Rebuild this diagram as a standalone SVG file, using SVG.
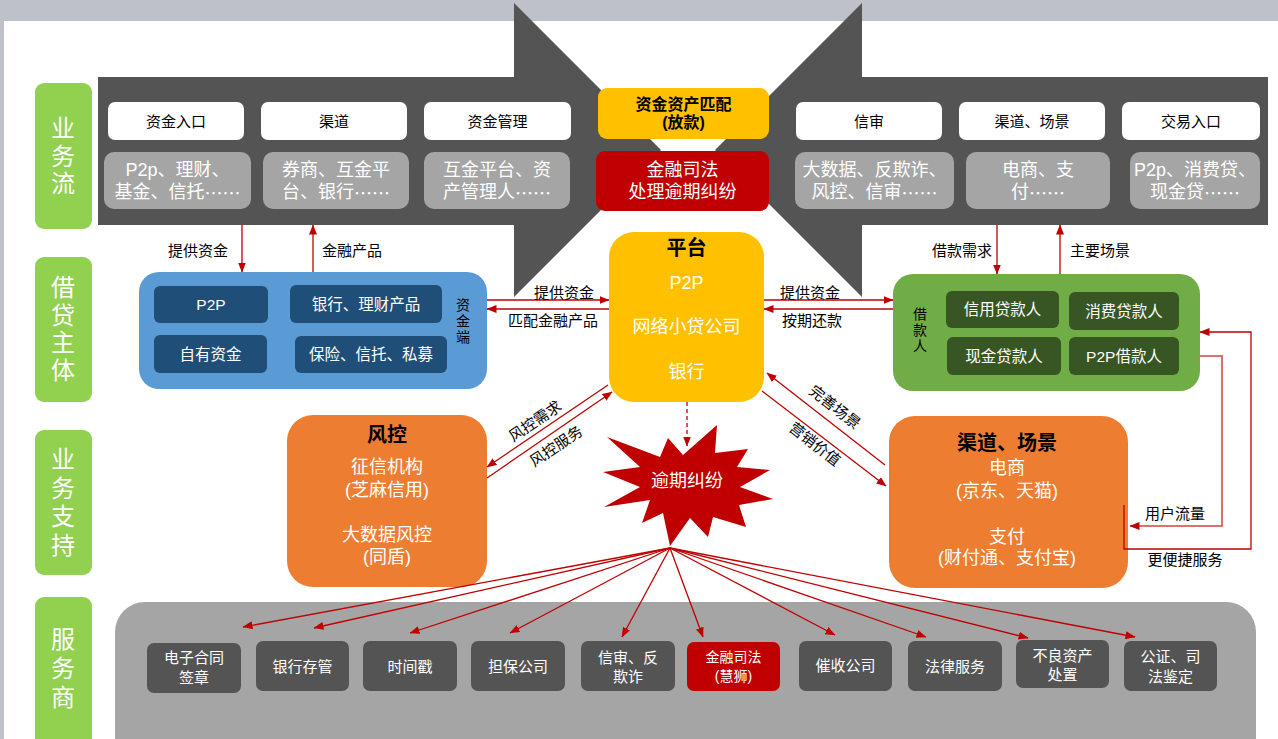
<svg xmlns="http://www.w3.org/2000/svg" width="1278" height="739" viewBox="0 0 1278 739">
<style>
text{font-family:"Liberation Sans","Noto Sans CJK SC",sans-serif;text-anchor:middle;dominant-baseline:central}
.cjk{font-family:"Noto Sans CJK SC",sans-serif}
.side{fill:#92d050}
.sidet{fill:#fff;font-size:24px}
.wbox{fill:#fff}
.wt{fill:#000;font-size:15px}
.gbox{fill:#a5a5a5}
.gt{fill:#fff;font-size:18px}
.dbox{fill:#545454}
.st{fill:#fff;font-size:15px}
.lbl{fill:#000;font-size:15px}
.vl{fill:#000;font-size:14px}
.bt{fill:#fff;font-size:15.5px}
.big{fill:#fff;font-size:18px}
.head{fill:#000;font-size:20px;font-weight:bold}
.c{stroke:#c00000;stroke-width:1.3;fill:none}
.cl{stroke:#e07070;stroke-width:2;fill:none}
</style>
<defs>
<marker id="ah" markerUnits="userSpaceOnUse" markerWidth="10" markerHeight="8" refX="9.5" refY="4" orient="auto">
<path d="M0,0 L10,4 L0,8 z" fill="#c00000"/>
</marker>
</defs>
<rect x="0" y="0" width="1278" height="739" fill="#fff"/>
<rect x="0" y="0" width="1278" height="21" fill="#bfc1ca"/>
<rect x="0" y="0" width="4" height="739" fill="#bfc1ca"/>

<g id="flow-arrows">
<polygon points="98,77 514,77 514,3 661,150 514,297 514,225 98,225" fill="#545454"/>
<polygon points="1268,77 862,77 862,3 715,150 862,297 862,225 1268,225" fill="#545454"/>
</g>

<g id="side-labels">
<g id="side-yewuliu"><rect class="side" x="35" y="83" width="57" height="146" rx="9"/>
<text class="sidet"><tspan x="63" y="128">业</tspan><tspan x="63" y="156">务</tspan><tspan x="63" y="183">流</tspan></text></g>
<g id="side-jiedai"><rect class="side" x="35" y="257" width="57" height="145" rx="9"/>
<text class="sidet"><tspan x="63" y="287">借</tspan><tspan x="63" y="315">贷</tspan><tspan x="63" y="342">主</tspan><tspan x="63" y="370">体</tspan></text></g>
<g id="side-zhichi"><rect class="side" x="35" y="430" width="57" height="145" rx="9"/>
<text class="sidet"><tspan x="63" y="459">业</tspan><tspan x="63" y="488">务</tspan><tspan x="63" y="516">支</tspan><tspan x="63" y="545">持</tspan></text></g>
<g id="side-fuwushang"><rect class="side" x="35" y="597" width="57" height="160" rx="9"/>
<text class="sidet"><tspan x="63" y="639">服</tspan><tspan x="63" y="668">务</tspan><tspan x="63" y="697">商</tspan></text></g>
</g>

<g id="top-row">
<g id="t-zijinrukou"><rect class="wbox" x="108" y="102" width="136" height="38" rx="7"/><text class="wt" x="176" y="121">资金入口</text>
<rect class="gbox" x="104" y="152" width="147" height="57" rx="10"/><text class="gt"><tspan x="177.5" y="170">P2p、理财、</tspan><tspan x="177.5" y="192">基金、信托<tspan class="cjk">……</tspan></tspan></text></g>
<g id="t-qudao"><rect class="wbox" x="261" y="102" width="146" height="38" rx="7"/><text class="wt" x="334" y="121">渠道</text>
<rect class="gbox" x="263" y="152" width="146" height="57" rx="10"/><text class="gt"><tspan x="336" y="170">券商、互金平</tspan><tspan x="336" y="192">台、银行<tspan class="cjk">……</tspan></tspan></text></g>
<g id="t-zijinguanli"><rect class="wbox" x="424" y="102" width="147" height="38" rx="7"/><text class="wt" x="497.5" y="121">资金管理</text>
<rect class="gbox" x="424" y="152" width="146" height="57" rx="10"/><text class="gt"><tspan x="497" y="170">互金平台、资</tspan><tspan x="497" y="192">产管理人<tspan class="cjk">……</tspan></tspan></text></g>
<g id="t-xinshen"><rect class="wbox" x="796" y="102" width="146" height="38" rx="7"/><text class="wt" x="869" y="121">信审</text>
<rect class="gbox" x="795" y="152" width="159" height="57" rx="10"/><text class="gt"><tspan x="874.5" y="170">大数据、反欺诈、</tspan><tspan x="874.5" y="192">风控、信审<tspan class="cjk">……</tspan></tspan></text></g>
<g id="t-qudaochangjing"><rect class="wbox" x="959" y="102" width="146" height="38" rx="7"/><text class="wt" x="1032" y="121">渠道、场景</text>
<rect class="gbox" x="966" y="152" width="144" height="57" rx="10"/><text class="gt"><tspan x="1038" y="170">电商、支</tspan><tspan x="1038" y="192">付<tspan class="cjk">……</tspan></tspan></text></g>
<g id="t-jiaoyirukou"><rect class="wbox" x="1122" y="102" width="138" height="38" rx="7"/><text class="wt" x="1191" y="121">交易入口</text>
<rect class="gbox" x="1130" y="152" width="130" height="57" rx="10"/><text class="gt"><tspan x="1195" y="170">P2p、消费贷、</tspan><tspan x="1195" y="192">现金贷<tspan class="cjk">……</tspan></tspan></text></g>
<g id="t-pipei"><rect x="598" y="88" width="171" height="51" rx="9" fill="#ffc000"/>
<text style="fill:#000;font-size:16px;font-weight:bold"><tspan x="683.5" y="104">资金资产匹配</tspan><tspan x="683.5" y="122">(放款)</tspan></text></g>
<g id="t-sifa"><rect x="596" y="151" width="173" height="60" rx="9" fill="#c00000"/>
<text class="gt"><tspan x="682.5" y="170">金融司法</tspan><tspan x="682.5" y="192">处理逾期纠纷</tspan></text></g>
</g>

<g id="zijinduan">
<rect x="139" y="272" width="348" height="117" rx="20" fill="#5b9bd5"/>
<rect x="154" y="286" width="114" height="37" rx="6" fill="#1f4e79"/><text class="bt" x="211" y="304.5">P2P</text>
<rect x="290" y="285" width="152" height="38" rx="6" fill="#1f4e79"/><text class="bt" x="366" y="304">银行、理财产品</text>
<rect x="154" y="335" width="113" height="38" rx="6" fill="#1f4e79"/><text class="bt" x="210.5" y="354">自有资金</text>
<rect x="295" y="336" width="152" height="37" rx="6" fill="#1f4e79"/><text class="bt" x="371" y="354.5">保险、信托、私募</text>
<text class="vl"><tspan x="463" y="305">资</tspan><tspan x="463" y="321">金</tspan><tspan x="463" y="337">端</tspan></text>
</g>

<g id="pingtai">
<rect x="609" y="232" width="155" height="170" rx="25" fill="#ffc000"/>
<text class="head" x="686.5" y="248">平台</text>
<text class="big"><tspan x="686.5" y="283">P2P</tspan><tspan x="686.5" y="327">网络小贷公司</tspan><tspan x="686.5" y="372">银行</tspan></text>
</g>

<g id="jiekuanren">
<rect x="893" y="274" width="307" height="117" rx="20" fill="#70ad47"/>
<rect x="946" y="291" width="113" height="37" rx="6" fill="#375623"/><text class="bt" x="1002.5" y="309.5">信用贷款人</text>
<rect x="1069" y="292" width="110" height="38" rx="6" fill="#375623"/><text class="bt" x="1124" y="311">消费贷款人</text>
<rect x="947" y="337" width="114" height="38" rx="6" fill="#375623"/><text class="bt" x="1004" y="356">现金贷款人</text>
<rect x="1069" y="337" width="110" height="38" rx="6" fill="#375623"/><text class="bt" x="1124" y="356">P2P借款人</text>
<text class="vl"><tspan x="920" y="314">借</tspan><tspan x="920" y="330">款</tspan><tspan x="920" y="346">人</tspan></text>
</g>

<g id="fengkong">
<rect x="287" y="415" width="200" height="172" rx="26" fill="#ed7d31"/>
<text class="head" x="387" y="435">风控</text>
<text class="big"><tspan x="387" y="467">征信机构</tspan><tspan x="387" y="490">(芝麻信用)</tspan><tspan x="387" y="535">大数据风控</tspan><tspan x="387" y="557">(同盾)</tspan></text>
</g>

<g id="qudao-changjing">
<rect x="889" y="416" width="239" height="172" rx="26" fill="#ed7d31"/>
<text class="head" x="1007" y="443">渠道、场景</text>
<text class="big"><tspan x="1007" y="468">电商</tspan><tspan x="1007" y="491">(京东、天猫)</tspan><tspan x="1007" y="537">支付</tspan><tspan x="1007" y="558">(财付通、支付宝)</tspan></text>
</g>

<g id="yuqi">
<polygon points="717,425 715,453 748,449 737,467 770,470 740,487 773,499 739,505 746,527 713,517 708,537 690,518 670,546 663,513 642,523 650,500 604,507 640,487 603,472 640,467 607,437 660,457 668,438 683,455" fill="#c00000"/>
<text class="big" x="687" y="481">逾期纠纷</text>
</g>

<g id="services">
<rect x="115" y="602" width="1141" height="170" rx="30" fill="#a5a5a5"/>
<g id="s1"><rect class="dbox" x="147" y="643" width="94" height="50" rx="7"/><text class="st"><tspan x="194" y="657">电子合同</tspan><tspan x="194" y="677">签章</tspan></text></g>
<g id="s2"><rect class="dbox" x="256" y="641" width="93" height="50" rx="7"/><text class="st" x="302.5" y="666">银行存管</text></g>
<g id="s3"><rect class="dbox" x="363" y="641" width="94" height="50" rx="7"/><text class="st" x="410" y="666">时间戳</text></g>
<g id="s4"><rect class="dbox" x="471" y="641" width="94" height="50" rx="7"/><text class="st" x="518" y="666">担保公司</text></g>
<g id="s5"><rect class="dbox" x="581" y="641" width="94" height="50" rx="7"/><text class="st"><tspan x="628" y="657">信审、反</tspan><tspan x="628" y="676">欺诈</tspan></text></g>
<g id="s6"><rect x="687" y="642" width="93" height="49" rx="7" fill="#c00000"/><text class="st" style="font-size:14px"><tspan x="733.5" y="657">金融司法</tspan><tspan x="733.5" y="676">(慧狮)</tspan></text></g>
<g id="s7"><rect class="dbox" x="799" y="641" width="93" height="50" rx="7"/><text class="st" x="845.5" y="665">催收公司</text></g>
<g id="s8"><rect class="dbox" x="908" y="641" width="94" height="50" rx="7"/><text class="st" x="955" y="666">法律服务</text></g>
<g id="s9"><rect class="dbox" x="1016" y="640" width="93" height="48" rx="7"/><text class="st"><tspan x="1062.5" y="655">不良资产</tspan><tspan x="1062.5" y="674">处置</tspan></text></g>
<g id="s10"><rect class="dbox" x="1124" y="641" width="93" height="50" rx="7"/><text class="st"><tspan x="1170.5" y="656">公证、司</tspan><tspan x="1170.5" y="676">法鉴定</tspan></text></g>
</g>

<g id="connectors">
<line class="c" x1="242" y1="225" x2="242" y2="272" marker-end="url(#ah)"/>
<line class="c" x1="313" y1="272" x2="313" y2="225" marker-end="url(#ah)"/>
<line class="c" x1="997" y1="225" x2="997" y2="274" marker-end="url(#ah)"/>
<line class="c" x1="1060" y1="274" x2="1060" y2="225" marker-end="url(#ah)"/>
<line class="c" x1="487" y1="300" x2="609" y2="300" marker-end="url(#ah)"/>
<line class="c" x1="609" y1="309" x2="487" y2="309" marker-end="url(#ah)"/>
<line class="c" x1="764" y1="300" x2="893" y2="300" marker-end="url(#ah)"/>
<line class="c" x1="893" y1="309" x2="764" y2="309" marker-end="url(#ah)"/>
<line class="c" x1="608" y1="385" x2="487" y2="467" marker-end="url(#ah)"/>
<line class="c" x1="487" y1="478" x2="612" y2="392" marker-end="url(#ah)"/>
<line class="c" x1="885" y1="465" x2="767" y2="373" marker-end="url(#ah)"/>
<line class="c" x1="762" y1="391" x2="886" y2="486" marker-end="url(#ah)"/>
<line class="c" x1="687" y1="402" x2="687" y2="446" stroke-dasharray="4,3" marker-end="url(#ah)"/>
<polyline class="cl" points="1198,356 1222,356 1222,526 1130,526" marker-end="url(#ah)"/>
<polyline class="c" points="1124,505 1124,549 1251,549 1251,332 1200,332" marker-end="url(#ah)"/>
<line class="c" x1="670" y1="548" x2="243" y2="627" marker-end="url(#ah)"/>
<line class="c" x1="670" y1="548" x2="314" y2="628" marker-end="url(#ah)"/>
<line class="c" x1="670" y1="548" x2="410" y2="633" marker-end="url(#ah)"/>
<line class="c" x1="670" y1="548" x2="510" y2="633" marker-end="url(#ah)"/>
<line class="c" x1="670" y1="548" x2="622" y2="637" marker-end="url(#ah)"/>
<line class="c" x1="670" y1="548" x2="703" y2="637" marker-end="url(#ah)"/>
<line class="c" x1="670" y1="548" x2="835" y2="635" marker-end="url(#ah)"/>
<line class="c" x1="670" y1="548" x2="926" y2="637" marker-end="url(#ah)"/>
<line class="c" x1="670" y1="548" x2="1028" y2="638" marker-end="url(#ah)"/>
<line class="c" x1="670" y1="548" x2="1135" y2="637" marker-end="url(#ah)"/>
</g>

<g id="connector-labels">
<text class="lbl" x="198" y="250">提供资金</text>
<text class="lbl" x="352" y="250">金融产品</text>
<text class="lbl" x="962" y="250">借款需求</text>
<text class="lbl" x="1100" y="250">主要场景</text>
<text class="lbl" x="564" y="292">提供资金</text>
<text class="lbl" x="553" y="320">匹配金融产品</text>
<text class="lbl" x="810" y="292">提供资金</text>
<text class="lbl" x="812" y="320">按期还款</text>
<text class="lbl" x="1175" y="513">用户流量</text>
<text class="lbl" x="1185" y="559">更便捷服务</text>
<g transform="translate(535,421) rotate(-34)"><text class="lbl" x="0" y="0">风控需求</text></g>
<g transform="translate(556,446) rotate(-34)"><text class="lbl" x="0" y="0">风控服务</text></g>
<g transform="translate(835,407) rotate(38)"><text class="lbl" x="0" y="0">完善场景</text></g>
<g transform="translate(815,444) rotate(38)"><text class="lbl" x="0" y="0">营销价值</text></g>
</g>
</svg>
